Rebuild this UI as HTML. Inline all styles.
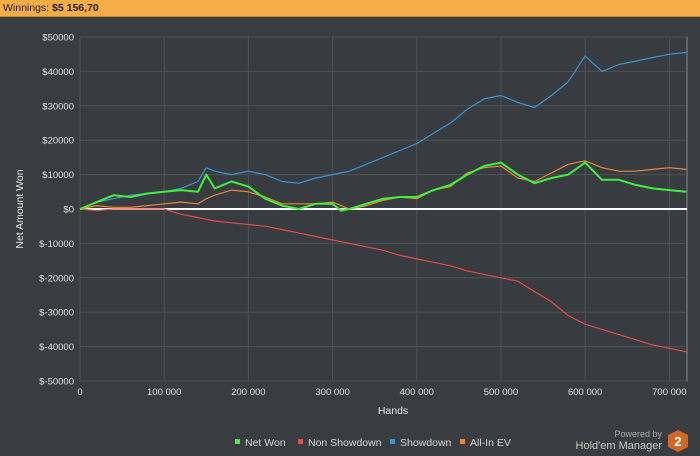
<!DOCTYPE html>
<html><head><meta charset="utf-8"><style>
body{margin:0;width:700px;height:456px;background:#393c40;overflow:hidden;font-family:"Liberation Sans",sans-serif}
#bar{position:absolute;left:0;top:0;width:700px;height:17px;background:#f4ad47;border-bottom:1px solid #c98a30;font-size:10.5px;line-height:16px;color:#222;padding-left:3px;box-sizing:border-box}
</style></head><body>
<div id="bar">Winnings: <b>$5 156,70</b></div>
<svg id="c" width="700" height="456" style="position:absolute;left:0;top:0"></svg>
<script>
const hands=[0,20000,40000,60000,80000,100000,120000,140000,150000,160000,180000,200000,220000,240000,260000,280000,300000,310000,320000,340000,360000,380000,400000,420000,440000,460000,480000,500000,520000,540000,560000,580000,600000,620000,640000,660000,680000,700000,720000];
const showdown=[0,2000,3000,4000,4500,5000,6000,8000,12000,11000,10000,11000,10000,8000,7500,9000,10000,10500,11000,13000,15000,17000,19000,22000,25000,29000,32000,33000,31000,29500,33000,37000,44500,40000,42000,43000,44000,45000,45500];
const netWon=[0,2000,4000,3500,4500,5000,5500,5000,10000,6000,8000,6500,3000,1000,0,1500,1500,-500,0,1500,3000,3500,3500,5500,7000,10000,12500,13500,10000,7500,9000,10000,13500,8500,8500,7000,6000,5500,5000];
const allInEV=[0,1000,500,500,1000,1500,2000,1500,3000,4000,5500,5000,3500,1500,1500,1500,2000,1000,0,1000,2500,3500,3000,5500,6500,10500,12000,12500,9000,8000,10500,13000,14000,12000,11000,11000,11500,12000,11500];
const nonShowdown=[0,-500,0,0,0,0,-1500,-2500,-3000,-3500,-4000,-4500,-5000,-6000,-7000,-8000,-9000,-9500,-10000,-11000,-12000,-13500,-14500,-15500,-16500,-18000,-19000,-20000,-21000,-24000,-27000,-31000,-33500,-35000,-36500,-38000,-39500,-40500,-41500];
const yTicks=[50000,40000,30000,20000,10000,0,-10000,-20000,-30000,-40000,-50000];
const xTicks=[0,100000,200000,300000,400000,500000,600000,700000];
const NS="http://www.w3.org/2000/svg";
const svg=document.getElementById('c');
const L=80,R=687,T=37,B=381,XMAX=721000;
const X=h=>L+h/XMAX*(R-L);
const Y=v=>T+(50000-v)/100000*(B-T);
function mk(t,a,p){const e=document.createElementNS(NS,t);for(const k in a)e.setAttribute(k,a[k]);(p||svg).appendChild(e);return e;}
const plot=mk('rect',{x:L,y:T,width:R-L,height:B-T,fill:'#383b3f',stroke:'#8a8d90','stroke-width':1});


yTicks.forEach(v=>{
  const g=mk('line',{x1:L,x2:R,y1:Y(v),y2:Y(v),stroke:'#4f5256','stroke-width':1});
  
  
  const t=mk('text',{x:L-6,y:Y(v)+3.5,'text-anchor':'end','font-size':9.5,fill:'#e0e0e0'});
  t.textContent=(v<0?'$-'+(-v):'$'+v);
  
  
});
xTicks.forEach(h=>{
  const g=mk('line',{x1:X(h),x2:X(h),y1:T,y2:B,stroke:'#4f5256','stroke-width':1});
  
  
  const t=mk('text',{x:X(h),y:B+14,'text-anchor':'middle','font-size':9.5,fill:'#e0e0e0'});
  t.textContent=h===0?'0':String(h).replace(/(\d)(?=(\d{3})+$)/g,'$1 ');
  
  
});
const zero=mk('line',{x1:L,x2:R,y1:Y(0),y2:Y(0),stroke:'#ffffff','stroke-width':2});


function series(vals,color,name,w){
  const d=vals.map((v,i)=>(i?'L':'M')+X(hands[i]).toFixed(1)+','+Y(v).toFixed(1)).join('');
  const p=mk('path',{d:d,fill:'none',stroke:color,'stroke-width':w,'stroke-linejoin':'round'});
  
  
}
series(nonShowdown,'#e04e48','non-showdown-line',1.2);
series(showdown,'#3a94d4','showdown-line',1.2);
series(allInEV,'#e8873a','all-in-ev-line',1.2);
series(netWon,'#3ef03e','net-won-line',2);
const yt=mk('text',{x:23,y:(T+B)/2,'text-anchor':'middle','font-size':10.5,fill:'#e8e8e8',transform:'rotate(-90 23 '+(T+B)/2+')'});
yt.textContent='Net Amount Won';


const xt=mk('text',{x:393,y:414,'text-anchor':'middle','font-size':10.5,fill:'#e8e8e8'});
xt.textContent='Hands';


const leg=[['Net Won','#3ef03e',235],['Non Showdown','#e04e48',298],['Showdown','#3a94d4',390],['All-In EV','#e8873a',460]];
leg.forEach(l=>{
  const g=mk('g',{});
  
  
  mk('rect',{x:l[2],y:439,width:5,height:5,fill:l[1]},g);
  const t=mk('text',{x:l[2]+10,y:446,'font-size':10.5,fill:'#d8d8d8'},g);
  t.textContent=l[0];
});
const p1=mk('text',{x:662,y:437,'text-anchor':'end','font-size':9,fill:'#aaaaaa'});
p1.textContent='Powered by';


const p2=mk('text',{x:662,y:449,'text-anchor':'end','font-size':11,fill:'#c8c8c8'});
p2.textContent="Hold'em Manager";


const hex=mk('polygon',{points:'678,430 688,435 688,447 678,452 668,447 668,435',fill:'#d0682a'});


const h2=mk('text',{x:678,y:446,'text-anchor':'middle','font-size':13,'font-weight':'bold',fill:'#fff'});
h2.textContent='2';


</script>
</body></html>
